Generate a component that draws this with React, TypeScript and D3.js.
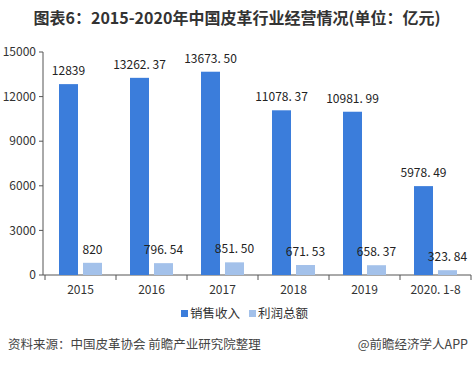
import React from "react";
import * as d3 from "d3";

const categories = ["2015", "2016", "2017", "2018", "2019", "2020.1-8"];
const salesRevenue = [12839, 13262.37, 13673.5, 11078.37, 10981.99, 5978.49];
const totalProfit = [820, 796.54, 851.5, 671.53, 658.37, 323.84];
const salesLabels = ["12839", "13262.37", "13673.50", "11078.37", "10981.99", "5978.49"];
const profitLabels = ["820", "796.54", "851.50", "671.53", "658.37", "323.84"];
const yTicks = [0, 3000, 6000, 9000, 12000, 15000];
const seriesNames = ["销售收入", "利润总额"];

const W = 474;
const H = 366;
const FONT = "'Noto Sans CJK SC', 'Noto Sans', sans-serif";
const C1 = "#3b7ddb";
const C2 = "#a3c1ea";

export default function App() {
  const x = d3.scaleBand<string>().domain(categories).range([45, 471]);
  const y = d3.scaleLinear().domain([0, 15000]).range([275, 52]);
  const bw = 19;
  const gap = 5;
  const fmt = (s: string) => s.replace(".", ". ");

  return (
    <svg width={W} height={H} style={{ position: "absolute", left: 0, top: 0, background: "#fff" }} fontFamily={FONT}>
      <text x={W / 2} y={24} textAnchor="middle" fontSize={16} fontWeight="bold" fill="#333">
        图表6：2015-2020年中国皮革行业经营情况(单位：亿元)
      </text>
      {/* y axis */}
      <line x1={43} x2={43} y1={y(15000)} y2={y(0)} stroke="#555" />
      {yTicks.map((t) => (
        <g key={t}>
          <line x1={39} x2={43} y1={y(t)} y2={y(t)} stroke="#555" />
          <text x={36} y={y(t)} dy="0.35em" textAnchor="end" fontSize={12} fill="#333">
            {t}
          </text>
        </g>
      ))}
      {/* x axis */}
      <line x1={43} x2={471} y1={y(0)} y2={y(0)} stroke="#555" />
      {categories.map((c, i) => (
        <line key={"t" + i} x1={x(c)!} x2={x(c)!} y1={y(0)} y2={y(0) + 5} stroke="#555" />
      ))}
      <line x1={471} x2={471} y1={y(0)} y2={y(0) + 5} stroke="#555" />
      {categories.map((c, i) => {
        const cx = x(c)! + x.bandwidth() / 2;
        const x1 = cx - gap / 2 - bw;
        const x2 = cx + gap / 2;
        return (
          <g key={c}>
            <rect x={x1} y={y(salesRevenue[i])} width={bw} height={y(0) - y(salesRevenue[i])} fill={C1} />
            <rect x={x2} y={y(totalProfit[i])} width={bw} height={y(0) - y(totalProfit[i])} fill={C2} />
            <text x={x1 + bw / 2} y={y(salesRevenue[i]) - 9} textAnchor="middle" fontSize={12} fill="#222">
              {fmt(salesLabels[i])}
            </text>
            <text x={x2 + bw / 2} y={y(totalProfit[i]) - 9} textAnchor="middle" fontSize={12} fill="#222">
              {fmt(profitLabels[i])}
            </text>
            <text x={cx} y={294} textAnchor="middle" fontSize={12} fill="#333">
              {c.replace(".", ". ")}
            </text>
          </g>
        );
      })}
      {/* legend */}
      <rect x={181} y={310} width={7} height={7} fill={C1} />
      <text x={190} y={313.5} dy="0.35em" fontSize={12.5} fill="#333">{seriesNames[0]}</text>
      <rect x={249} y={310} width={7} height={7} fill={C2} />
      <text x={258} y={313.5} dy="0.35em" fontSize={12.5} fill="#333">{seriesNames[1]}</text>
      {/* footer */}
      <text x={8} y={345} dy="0.35em" fontSize={12.5} fill="#444">
        资料来源：中国皮革协会 前瞻产业研究院整理
      </text>
      <text x={468} y={345} dy="0.35em" textAnchor="end" fontSize={12.5} fill="#444">
        @前瞻经济学人APP
      </text>
    </svg>
  );
}
